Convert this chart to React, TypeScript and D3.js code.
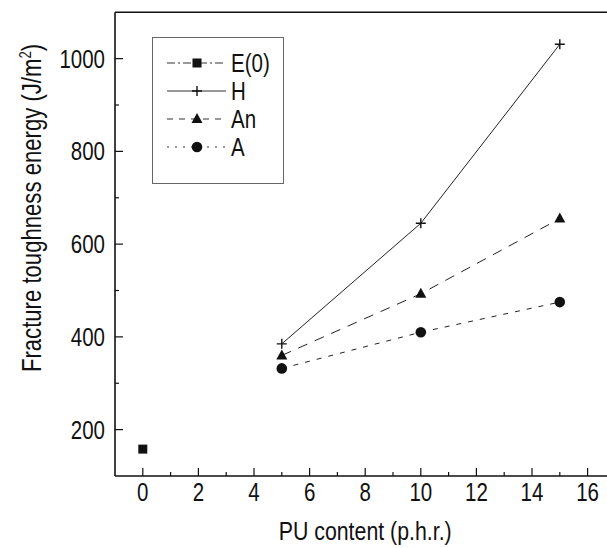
import { useEffect, useRef } from 'react';
import * as d3 from 'd3';

// PU content (p.h.r.)
const PU = [5, 10, 15];
const E0_X = [0];
const E0 = [158];
const H = [385, 645, 1031];
const AN = [360, 493, 655];
const A = [332, 410, 475];

const X_TICKS = [0, 2, 4, 6, 8, 10, 12, 14, 16];
const X_MINOR = [1, 3, 5, 7, 9, 11, 13, 15];
const Y_TICKS = [200, 400, 600, 800, 1000];
const Y_MINOR = [300, 500, 700, 900];

const WIDTH = 607;
const HEIGHT = 548;
const FONT = '"Liberation Sans", Arial, sans-serif';
const SX = 0.82; // squeeze the glyphs to look like the narrow Helvetica of the original
const INK = '#111';

export default function App() {
  const svgRef = useRef<SVGSVGElement | null>(null);

  useEffect(() => {
    const svg = d3.select(svgRef.current);
    svg.selectAll('*').remove();
    svg.style('font-family', FONT);

    const x = d3.scaleLinear().domain([-1, 17]).range([115, 115 + 18 * 27.8]);
    const y = d3.scaleLinear().domain([100, 1100]).range([476, 12.25]);

    const g = svg.append('g');

    // narrow text helper: position via transform so the squeeze doesn't move it
    const label = (parent, tx, ty, str, size, anchor = 'start', rot = 0) =>
      parent
        .append('text')
        .attr('transform', `translate(${tx},${ty}) rotate(${rot}) scale(${SX},1)`)
        .attr('text-anchor', anchor)
        .style('font-size', `${size}px`)
        .attr('fill', INK)
        .text(str);

    // Frame: left, bottom, top (right side is cut off)
    const frame = g.append('g').attr('stroke', INK).attr('stroke-width', 1.6);
    frame.append('line').attr('x1', x(-1)).attr('x2', x(-1)).attr('y1', y(1100)).attr('y2', y(100));
    frame.append('line').attr('x1', x(-1)).attr('x2', WIDTH).attr('y1', y(100)).attr('y2', y(100));
    frame.append('line').attr('x1', x(-1)).attr('x2', WIDTH).attr('y1', y(1100)).attr('y2', y(1100));

    // Ticks point inward
    const ticks = g.append('g').attr('stroke', INK).attr('stroke-width', 1.2);
    X_TICKS.forEach((t) => {
      ticks.append('line').attr('x1', x(t)).attr('x2', x(t)).attr('y1', y(100)).attr('y2', y(100) - 8);
    });
    X_MINOR.forEach((t) => {
      ticks.append('line').attr('x1', x(t)).attr('x2', x(t)).attr('y1', y(100)).attr('y2', y(100) - 4);
    });
    Y_TICKS.forEach((t) => {
      ticks.append('line').attr('x1', x(-1)).attr('x2', x(-1) + 8).attr('y1', y(t)).attr('y2', y(t));
    });
    Y_MINOR.forEach((t) => {
      ticks.append('line').attr('x1', x(-1)).attr('x2', x(-1) + 4).attr('y1', y(t)).attr('y2', y(t));
    });

    // Tick labels
    const tl = g.append('g');
    X_TICKS.forEach((t) => label(tl, x(t), 501, t, 25, 'middle'));
    Y_TICKS.forEach((t) => label(tl, 105, y(t) + 9, t, 25, 'end'));

    // Axis titles
    label(g, x(8), 540, 'PU content (p.h.r.)', 26, 'middle');

    const yt = label(g, 41, 208, '', 27, 'middle', -90);
    yt.append('tspan').text('Fracture toughness energy (J/m');
    yt.append('tspan').attr('dy', -10).style('font-size', '16px').text('2');
    yt.append('tspan').attr('dy', 10).text(')');

    // Series lines
    const line = d3
      .line<number>()
      .x((_, i) => x(PU[i]))
      .y((d) => y(d));

    const series = [
      { values: H, dash: null, symbol: 'plus' },
      { values: AN, dash: '10,8', symbol: 'tri' },
      { values: A, dash: '5,7', symbol: 'circle' },
    ];

    series.forEach((s) => {
      g.append('path')
        .attr('d', line(s.values))
        .attr('fill', 'none')
        .attr('stroke', '#222')
        .attr('stroke-width', 1)
        .attr('stroke-dasharray', s.dash);
    });

    const drawSymbol = (sel, type, cx, cy) => {
      if (type === 'square') {
        sel.append('rect').attr('x', cx - 4.5).attr('y', cy - 4.5).attr('width', 9).attr('height', 9).attr('fill', INK);
      } else if (type === 'plus') {
        sel.append('path')
          .attr('d', `M${cx - 5},${cy}H${cx + 5}M${cx},${cy - 5}V${cy + 5}`)
          .attr('stroke', INK)
          .attr('stroke-width', 1.4)
          .attr('fill', 'none');
      } else if (type === 'tri') {
        sel.append('path')
          .attr('d', `M${cx},${cy - 6}L${cx + 5.5},${cy + 4}L${cx - 5.5},${cy + 4}Z`)
          .attr('fill', INK);
      } else {
        sel.append('circle').attr('cx', cx).attr('cy', cy).attr('r', 5.3).attr('fill', INK);
      }
    };

    const marks = g.append('g');
    E0.forEach((v, i) => drawSymbol(marks, 'square', x(E0_X[i]), y(v)));
    series.forEach((s) => {
      s.values.forEach((v, i) => drawSymbol(marks, s.symbol, x(PU[i]), y(v)));
    });

    // Legend
    const legend = g.append('g');
    legend.append('rect')
      .attr('x', 152.5)
      .attr('y', 37.5)
      .attr('width', 131)
      .attr('height', 146)
      .attr('fill', 'white')
      .attr('stroke', '#666')
      .attr('stroke-width', 1);

    const items = [
      { label: 'E(0)', symbol: 'square', dash: '8,3,2,3' },
      { label: 'H', symbol: 'plus', dash: null },
      { label: 'An', symbol: 'tri', dash: '6,6' },
      { label: 'A', symbol: 'circle', dash: '2,6' },
    ];
    const rowY = d3.scalePoint<string>().domain(items.map((d) => d.label)).range([63, 147]);

    items.forEach((it) => {
      const cy = rowY(it.label) ?? 0;
      legend.append('line')
        .attr('x1', 167)
        .attr('x2', 226)
        .attr('y1', cy)
        .attr('y2', cy)
        .attr('stroke', '#333')
        .attr('stroke-width', 1)
        .attr('stroke-dasharray', it.dash);
      drawSymbol(legend, it.symbol, 197, cy);
      label(legend, 231, cy + 9, it.label, 25);
    });
  }, []);

  return (
    <svg
      ref={svgRef}
      width={WIDTH}
      height={HEIGHT}
      style={{ position: 'absolute', left: 0, top: 0, background: 'white' }}
    />
  );
}
